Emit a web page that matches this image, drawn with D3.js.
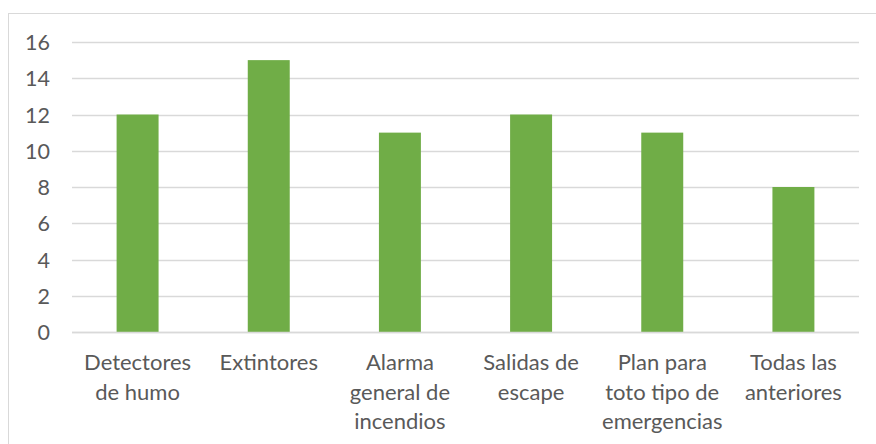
<!DOCTYPE html>
<html>
<head>
<meta charset="utf-8">
<script src="https://cdn.jsdelivr.net/npm/d3@7"></script>
<style>
  html, body { margin: 0; padding: 0; background: #fff; }
  svg { display: block; }
</style>
</head>
<body>
<svg id="chart" width="876" height="444"></svg>
<script>
// Category labels, one entry per line of the wrapped label
const categories = [
  ["Detectores", "de humo"],
  ["Extintores"],
  ["Alarma", "general de", "incendios"],
  ["Salidas de", "escape"],
  ["Plan para", "toto tipo de", "emergencias"],
  ["Todas las", "anteriores"]
];
const values = [12, 15, 11, 12, 11, 8];
const yTicks = [0, 2, 4, 6, 8, 10, 12, 14, 16];

const svg = d3.select("#chart");
const W = 876, H = 444;
const plot = { left: 72, right: 859, top: 42, bottom: 332 };
const font = "Lato, 'Open Sans', sans-serif";
const textColor = "#595959";

// outer chart frame
svg.append("rect")
  .attr("x", 8.5).attr("y", 13.5)
  .attr("width", W).attr("height", H)
  .attr("fill", "#fff")
  .attr("stroke", "#d9d9d9").attr("stroke-width", 1);

const x = d3.scaleBand()
  .domain(d3.range(categories.length))
  .range([plot.left, plot.right])
  .paddingInner(0.68).paddingOuter(0.34);

const y = d3.scaleLinear()
  .domain([0, 16])
  .range([plot.bottom, plot.top]);

// gridlines
svg.append("g")
  .selectAll("line")
  .data(yTicks)
  .join("line")
  .attr("x1", plot.left).attr("x2", plot.right)
  .attr("y1", d => Math.round(y(d)) + 0.5)
  .attr("y2", d => Math.round(y(d)) + 0.5)
  .attr("stroke", "#d9d9d9").attr("stroke-width", 1.3);

// y axis labels
const yAxis = d3.axisLeft(y).tickValues(yTicks).tickSize(0).tickPadding(0);
const gy = svg.append("g")
  .attr("transform", `translate(50,0)`)
  .call(yAxis);
gy.select(".domain").remove();
gy.selectAll("text")
  .attr("fill", textColor)
  .style("font-family", font)
  .style("font-size", "21.5px")
  .attr("dy", "0.35em");

// bars
svg.append("g")
  .selectAll("rect")
  .data(values)
  .join("rect")
  .attr("x", (d, i) => x(i))
  .attr("width", x.bandwidth())
  .attr("y", d => y(d))
  .attr("height", d => y(0) - y(d))
  .attr("fill", "#70ad47");

// baseline
svg.append("line")
  .attr("x1", plot.left).attr("x2", plot.right)
  .attr("y1", plot.bottom + 0.5).attr("y2", plot.bottom + 0.5)
  .attr("stroke", "#d9d9d9").attr("stroke-width", 1.5);

// x axis category labels
const xAxis = d3.axisBottom(x).tickSize(0).tickFormat(() => "");
const gx = svg.append("g")
  .attr("transform", `translate(0,${plot.bottom})`)
  .call(xAxis);
gx.select(".domain").remove();
gx.selectAll(".tick").each(function(i) {
  const t = d3.select(this).select("text")
    .attr("fill", textColor)
    .attr("y", 0).attr("dy", null)
    .style("font-family", font)
    .style("font-size", "22px")
    .attr("text-anchor", "middle");
  categories[i].forEach((line, k) => {
    t.append("tspan")
      .attr("x", 0)
      .attr("y", 38 + k * 29.5)
      .text(line);
  });
});
</script>
</body>
</html>
